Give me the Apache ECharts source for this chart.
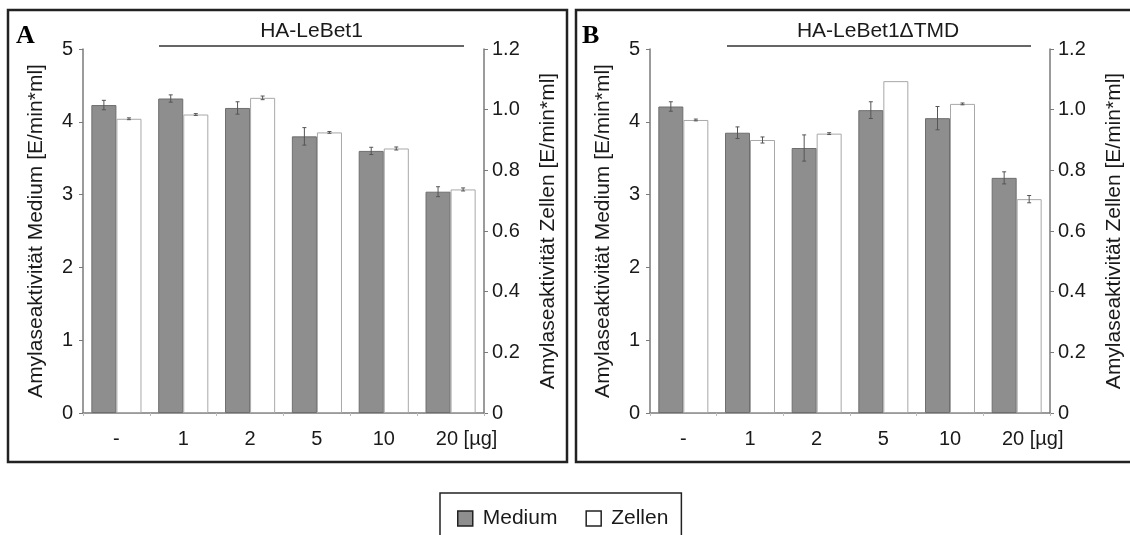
<!DOCTYPE html>
<html>
<head>
<meta charset="utf-8">
<script src="https://cdn.jsdelivr.net/npm/echarts@6/dist/echarts.min.js"></script>
<style>
  html, body { margin: 0; padding: 0; background: #fff; }
  #chart { width: 1130px; height: 535px; }
</style>
</head>
<body>
<div id="chart"></div>
<script>
// categories (plasmid amount)
const categories = ['-', '1', '2', '5', '10', '20 [µg]'];

// panel A: HA-LeBet1
const mediumA = [4.23, 4.32, 4.19, 3.80, 3.60, 3.04];
const mediumErrA = [0.065, 0.05, 0.085, 0.12, 0.05, 0.068];
const zellenA = [0.970, 0.984, 1.039, 0.925, 0.872, 0.737];
const zellenErrA = [0.003, 0.003, 0.006, 0.003, 0.005, 0.005];

// panel B: HA-LeBet1ΔTMD
const mediumB = [4.21, 3.85, 3.64, 4.16, 4.05, 3.23];
const mediumErrB = [0.065, 0.08, 0.18, 0.115, 0.16, 0.083];
const zellenB = [0.966, 0.900, 0.921, 1.094, 1.019, 0.705];
const zellenErrB = [0.003, 0.01, 0.003, 0, 0.003, 0.012];

// axis ticks
const leftTicks = [0, 1, 2, 3, 4, 5];
const rightTicks = [0, 0.2, 0.4, 0.6, 0.8, 1.0, 1.2];

const FONT = "'Liberation Sans', Arial, Helvetica, sans-serif";
const SERIF = "'Liberation Serif', 'Times New Roman', serif";
const TXT = '#1a1a1a';
const AXIS = '#7a7a7a';

function errorBars(offsetFrac) {
  return function (params, api) {
    const i = api.value(0), v = api.value(1), e = api.value(2);
    if (!(e > 0)) return null;
    const band = api.size([1, 0])[0];
    const x = api.coord([i, v])[0] + band * offsetFrac;
    const top = api.coord([i, v + e])[1];
    const bot = api.coord([i, v - e])[1];
    const cap = 2;
    const style = { stroke: '#555', lineWidth: 1 };
    return {
      type: 'group',
      children: [
        { type: 'line', shape: { x1: x, y1: top, x2: x, y2: bot }, style: style },
        { type: 'line', shape: { x1: x - cap, y1: top, x2: x + cap, y2: top }, style: style },
        { type: 'line', shape: { x1: x - cap, y1: bot, x2: x + cap, y2: bot }, style: style }
      ]
    };
  };
}

function withErr(vals, errs) {
  return vals.map((v, i) => [i, v, errs[i]]);
}

function xAxisFor(gridIndex) {
  return {
    type: 'category',
    gridIndex: gridIndex,
    data: categories,
    axisLine: { lineStyle: { color: AXIS, width: 1.5 } },
    axisTick: { show: true, length: 3, lineStyle: { color: '#bbb' } },
    axisLabel: {
      interval: 0,
      color: TXT, fontSize: 20, fontFamily: FONT, margin: 16,
      formatter: function (v) {
        return v.indexOf('[') > 0 ? '{u|' + v + '}' : v;
      },
      rich: { u: { fontSize: 20, fontFamily: FONT, color: TXT, padding: [0, 0, 0, 32] } }
    }
  };
}

function yLeft(gridIndex) {
  return {
    type: 'value',
    gridIndex: gridIndex,
    position: 'left',
    min: leftTicks[0],
    max: leftTicks[leftTicks.length - 1],
    interval: 1,
    name: 'Amylaseaktivität Medium [E/min*ml]',
    nameLocation: 'middle',
    nameRotate: 90,
    nameGap: 36,
    nameTextStyle: { color: TXT, fontSize: 21, fontFamily: FONT },
    axisLine: { show: true, lineStyle: { color: AXIS, width: 1.5 } },
    axisTick: { show: true, length: 4, lineStyle: { color: AXIS } },
    axisLabel: { color: TXT, fontSize: 20, fontFamily: FONT, margin: 10 },
    splitLine: { show: false }
  };
}

function yRight(gridIndex) {
  return {
    type: 'value',
    gridIndex: gridIndex,
    position: 'right',
    min: rightTicks[0],
    max: rightTicks[rightTicks.length - 1],
    interval: 0.2,
    name: 'Amylaseaktivität Zellen [E/min*ml]',
    nameLocation: 'middle',
    nameRotate: 90,
    nameGap: 54,
    nameTextStyle: { color: TXT, fontSize: 21, fontFamily: FONT },
    axisLine: { show: true, lineStyle: { color: AXIS, width: 1.5 } },
    axisTick: { show: true, length: 4, lineStyle: { color: AXIS } },
    axisLabel: {
      color: TXT, fontSize: 20, fontFamily: FONT, margin: 8,
      formatter: function (v) { return v === 0 ? '0' : v.toFixed(1); }
    },
    splitLine: { show: false }
  };
}

const mediumStyle = { color: '#8e8e8e', borderColor: '#6e6e6e', borderWidth: 1 };
const zellenStyle = { color: '#ffffff', borderColor: '#a8a8a8', borderWidth: 1 };

function panelSeries(p, med, medErr, zel, zelErr) {
  const xi = p, yl = p * 2, yr = p * 2 + 1;
  return [
    {
      name: 'Medium', type: 'bar', xAxisIndex: xi, yAxisIndex: yl,
      data: med, barWidth: '37.5%', barGap: '0%', itemStyle: mediumStyle,
      silent: true
    },
    {
      name: 'Zellen', type: 'bar', xAxisIndex: xi, yAxisIndex: yr,
      data: zel, barWidth: '37.5%', barGap: '0%', itemStyle: zellenStyle,
      silent: true
    },
    {
      type: 'custom', xAxisIndex: xi, yAxisIndex: yl, z: 5,
      renderItem: errorBars(-0.1875), data: withErr(med, medErr),
      encode: { x: 0, y: 1 }, silent: true
    },
    {
      type: 'custom', xAxisIndex: xi, yAxisIndex: yr, z: 5,
      renderItem: errorBars(0.1875), data: withErr(zel, zelErr),
      encode: { x: 0, y: 1 }, silent: true
    }
  ];
}

const chart = echarts.init(document.getElementById('chart'));

chart.setOption({
  animation: false,
  backgroundColor: '#fff',
  grid: [
    { left: 83, right: 646, top: 49, bottom: 122 },
    { left: 650, right: 80, top: 49, bottom: 122 }
  ],
  xAxis: [xAxisFor(0), xAxisFor(1)],
  yAxis: [yLeft(0), yRight(0), yLeft(1), yRight(1)],
  legend: {
    data: ['Medium', 'Zellen'],
    left: 440,
    top: 493,
    padding: [15, 13, 15, 17],
    itemGap: 28,
    itemWidth: 15,
    itemHeight: 15,
    icon: 'rect',
    selectedMode: false,
    borderColor: '#222',
    borderWidth: 1.5,
    itemStyle: { borderColor: '#222', borderWidth: 1.5 },
    textStyle: { color: TXT, fontSize: 21, fontFamily: FONT, padding: [0, 0, 0, 5] }
  },
  graphic: [
    // panel frames
    { type: 'rect', shape: { x: 8, y: 10, width: 559, height: 452 },
      style: { fill: null, stroke: '#222', lineWidth: 2.5 }, silent: true },
    { type: 'rect', shape: { x: 576, y: 10, width: 556, height: 452 },
      style: { fill: null, stroke: '#222', lineWidth: 2.5 }, silent: true },
    // panel letters
    { type: 'text', x: 16, y: 36,
      style: { text: 'A', font: 'bold 26px ' + SERIF, fill: '#000', verticalAlign: 'middle' } },
    { type: 'text', x: 582, y: 36,
      style: { text: 'B', font: 'bold 26px ' + SERIF, fill: '#000', verticalAlign: 'middle' } },
    // construct labels with bars
    { type: 'text', x: 311.5, y: 31,
      style: { text: 'HA-LeBet1', font: '21px ' + FONT, fill: TXT, align: 'center', verticalAlign: 'middle' } },
    { type: 'line', shape: { x1: 159, y1: 46, x2: 464, y2: 46 },
      style: { stroke: '#333', lineWidth: 1.5 } },
    { type: 'text', x: 878, y: 31,
      style: { text: 'HA-LeBet1ΔTMD', font: '21px ' + FONT, fill: TXT, align: 'center', verticalAlign: 'middle' } },
    { type: 'line', shape: { x1: 727, y1: 46, x2: 1031, y2: 46 },
      style: { stroke: '#333', lineWidth: 1.5 } }
  ],
  series: [].concat(
    panelSeries(0, mediumA, mediumErrA, zellenA, zellenErrA),
    panelSeries(1, mediumB, mediumErrB, zellenB, zellenErrB)
  )
});
</script>
</body>
</html>
